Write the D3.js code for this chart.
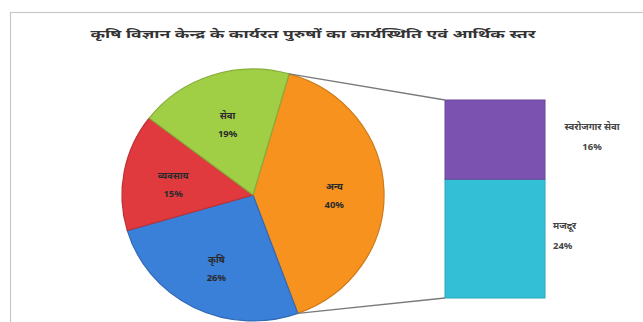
<!DOCTYPE html>
<html>
<head>
<meta charset="utf-8">
<script src="https://cdn.jsdelivr.net/npm/d3@7"></script>
<style>
  html, body { margin: 0; padding: 0; background: #fff; }
  svg { display: block; }
  text { font-family: "Noto Sans", "Lohit Devanagari", "Noto Sans Devanagari", sans-serif; }
</style>
</head>
<body>
<svg id="chart" width="643" height="322"></svg>
<script>
// Occupation shares (per cent)
const title = "कृषि विज्ञान केन्द्र के कार्यरत पुरुषों का कार्यस्थिति एवं आर्थिक स्तर";
const pieLabels = ["अन्य", "कृषि", "व्यवसाय", "सेवा"];
const pieValues = [40, 26, 15, 19];
const pieColors = ["#f7921e", "#3a7fd8", "#e03a3f", "#a0cf45"];

// Breakdown of the "अन्य" slice
const barLabels = ["मजदूर", "स्वरोजगार सेवा"];
const barValues = [24, 16];
const barColors = ["#33bfd6", "#7b52b0"];

const svg = d3.select("#chart");

// outer frame
svg.append("rect")
  .attr("x", 10.5).attr("y", 12.5)
  .attr("width", 700).attr("height", 400)
  .attr("fill", "none").attr("stroke", "#c8c8c8").attr("stroke-width", 1.2);

svg.append("text")
  .attr("x", 313).attr("y", 38)
  .attr("text-anchor", "middle")
  .attr("font-size", 11).attr("font-weight", "bold").attr("fill", "#333")
  .attr("textLength", 445).attr("lengthAdjust", "spacingAndGlyphs")
  .text(title);

// ---- pie ----
const cx = 253, cy = 195, r = 126, sx = 1.04;
const start = 16 * Math.PI / 180;
const pie = d3.pie().sort(null).startAngle(start).endAngle(start + 2 * Math.PI);
const arcs = pie(pieValues);
const arc = d3.arc().innerRadius(0).outerRadius(r);

const pg = svg.append("g").attr("transform", `translate(${cx},${cy}) scale(${sx},1)`);
pg.selectAll("path").data(arcs).join("path")
  .attr("d", arc)
  .attr("fill", (d, i) => pieColors[i])
  .attr("stroke", (d, i) => d3.color(pieColors[i]).darker(0.5))
  .attr("stroke-width", 1.2);

const labelArc = d3.arc().innerRadius(r * 0.62).outerRadius(r * 0.62);
const lg = svg.append("g").attr("transform", `translate(${cx},${cy})`);
arcs.forEach((d, i) => {
  const [x, y] = labelArc.centroid(d);
  const t = lg.append("text")
    .attr("x", x * sx).attr("y", y)
    .attr("text-anchor", "middle")
    .attr("font-size", 9.5).attr("font-weight", "bold").attr("fill", "#2a2a2a");
  t.append("tspan").attr("x", x * sx).attr("dy", "-0.2em").text(pieLabels[i]);
  t.append("tspan").attr("x", x * sx).attr("dy", "1.9em").text(d3.format(".0f")(pieValues[i]) + "%");
});

// ---- stacked bar ----
const total = d3.sum(barValues);
const y = d3.scaleLinear().domain([0, total]).range([298, 100]);
const bx = 445, bw = 100;
let acc = 0;
const segs = barValues.map((v, i) => {
  const s = { v, i, y0: acc, y1: acc + v };
  acc += v;
  return s;
});
svg.selectAll("rect.seg").data(segs).join("rect")
  .attr("class", "seg")
  .attr("x", bx).attr("width", bw)
  .attr("y", d => y(d.y1)).attr("height", d => y(d.y0) - y(d.y1))
  .attr("fill", d => barColors[d.i])
  .attr("stroke", d => d3.color(barColors[d.i]).darker(0.4))
  .attr("stroke-width", 1);

// connector lines from the "अन्य" slice edges to the bar
const o = arcs[0];
const pt = a => [cx + sx * r * Math.sin(a), cy - r * Math.cos(a)];
const [tx, ty] = pt(o.startAngle);
const [bx2, by2] = pt(o.endAngle);
svg.append("line").attr("x1", tx).attr("y1", ty).attr("x2", bx).attr("y2", y(total))
  .attr("stroke", "#7a7a7a").attr("stroke-width", 1.3);
svg.append("line").attr("x1", bx2).attr("y1", by2).attr("x2", bx).attr("y2", y(0))
  .attr("stroke", "#7a7a7a").attr("stroke-width", 1.3);

// bar labels
const bl = [
  { x: 553, y: y(12) - 10, anchor: "start" },
  { x: 592, y: y(total - 8) - 10, anchor: "middle" }
];
segs.forEach((d, i) => {
  const t = svg.append("text")
    .attr("x", bl[i].x).attr("y", bl[i].y)
    .attr("text-anchor", bl[i].anchor)
    .attr("font-size", 9.5).attr("font-weight", "bold").attr("fill", "#444");
  t.append("tspan").attr("x", bl[i].x).attr("dy", 0).text(barLabels[i]);
  t.append("tspan").attr("x", bl[i].x).attr("dy", "2.1em").text(barValues[i] + "%");
});
</script>
</body>
</html>
